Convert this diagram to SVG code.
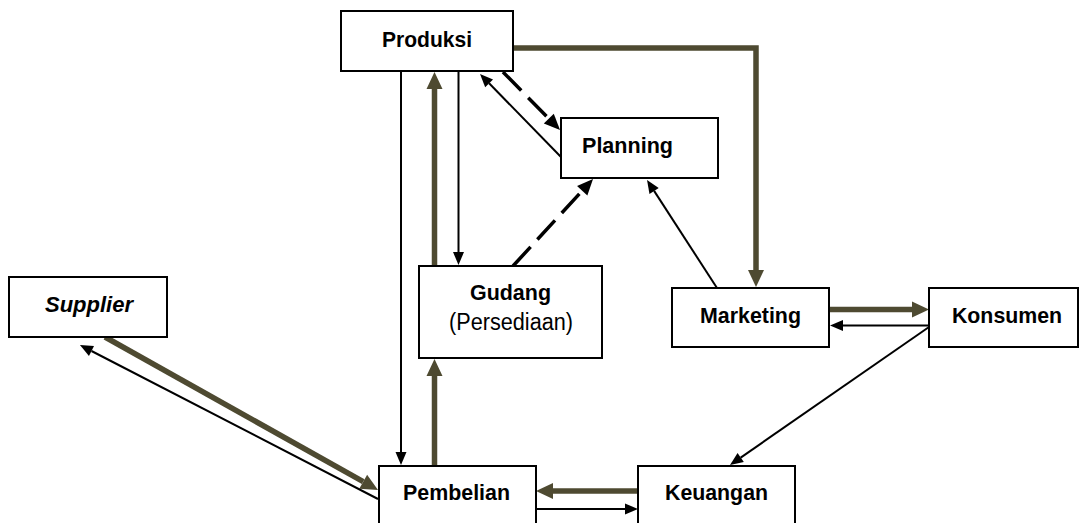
<svg xmlns="http://www.w3.org/2000/svg" width="1080" height="523" viewBox="0 0 1080 523">
<style>
.box{fill:#fff;stroke:#000;stroke-width:2}
.t{font-family:"Liberation Sans",Arial,sans-serif;font-size:22px;font-weight:bold;fill:#000}
.r{font-family:"Liberation Sans",Arial,sans-serif;font-size:23px;font-weight:normal;fill:#000}
.thin{fill:none;stroke:#000;stroke-width:2}
.dash{fill:none;stroke:#000;stroke-width:3.5;stroke-dasharray:26 10}
.olive{fill:none;stroke:#4E4A31;stroke-width:5.5}
</style>
<defs>
<marker id="ab" markerUnits="userSpaceOnUse" markerWidth="14" markerHeight="12" refX="0" refY="5.5" orient="auto" overflow="visible"><path d="M0,0 L13,5.5 L0,11 Z" fill="#000"/></marker>
<marker id="ad" markerUnits="userSpaceOnUse" markerWidth="17" markerHeight="15" refX="0" refY="7" orient="auto" overflow="visible"><path d="M0,0 L16,7 L0,14 Z" fill="#000"/></marker>
<marker id="ao" markerUnits="userSpaceOnUse" markerWidth="18" markerHeight="17" refX="0" refY="8" orient="auto" overflow="visible"><path d="M0,0 L17,8 L0,16 Z" fill="#4E4A31"/></marker>
</defs>
<rect width="1080" height="523" fill="#fff"/>
<g id="connectors">
<path class="thin" d="M401,71 V452" marker-end="url(#ab)"/>
<path class="thin" d="M458.5,71 V252" marker-end="url(#ab)"/>
<path class="olive" d="M434.5,266 V89" marker-end="url(#ao)"/>
<path class="olive" d="M434.5,466 V376" marker-end="url(#ao)"/>
<path class="dash" d="M503,72 L548.8,118.6" marker-end="url(#ad)"/>
<path class="thin" d="M561,157 L489.1,83.3" marker-end="url(#ab)"/>
<path class="dash" d="M513,266 L582.2,190.8" marker-end="url(#ad)"/>
<path class="thin" d="M717,288 L654.1,190.9" marker-end="url(#ab)"/>
<path class="olive" d="M513,48 H756 V270" marker-end="url(#ao)"/>
<path class="olive" d="M829,309.5 H912" marker-end="url(#ao)"/>
<path class="thin" d="M929,325.5 H843" marker-end="url(#ab)"/>
<path class="thin" d="M929,327 L740.7,457.6" marker-end="url(#ab)"/>
<path class="olive" d="M638,491 H553" marker-end="url(#ao)"/>
<path class="thin" d="M536,509 H625" marker-end="url(#ab)"/>
<path class="olive" d="M105,337 L363.2,481.7" marker-end="url(#ao)"/>
<path class="thin" d="M378,499 L91.5,351" marker-end="url(#ab)"/>
</g>
<g id="produksi"><rect class="box" x="341" y="11" width="172" height="60"/><text class="t" x="382" y="47" textLength="90" lengthAdjust="spacingAndGlyphs">Produksi</text></g>
<g id="planning"><rect class="box" x="561" y="118" width="157" height="60"/><text class="t" x="582" y="153" textLength="91" lengthAdjust="spacingAndGlyphs">Planning</text></g>
<g id="supplier"><rect class="box" x="9" y="277" width="158" height="60"/><text class="t" x="45" y="312" font-style="italic" textLength="88" lengthAdjust="spacingAndGlyphs">Supplier</text></g>
<g id="gudang"><rect class="box" x="419" y="266" width="183" height="92"/><text class="t" x="470" y="300" textLength="81" lengthAdjust="spacingAndGlyphs">Gudang</text><text class="r" x="449" y="330" textLength="124" lengthAdjust="spacingAndGlyphs">(Persediaan)</text></g>
<g id="marketing"><rect class="box" x="672" y="288" width="157" height="59"/><text class="t" x="700" y="323" textLength="101" lengthAdjust="spacingAndGlyphs">Marketing</text></g>
<g id="konsumen"><rect class="box" x="929" y="288" width="149" height="59"/><text class="t" x="952" y="323" textLength="110" lengthAdjust="spacingAndGlyphs">Konsumen</text></g>
<g id="pembelian"><rect class="box" x="379" y="466" width="157" height="70"/><text class="t" x="403" y="500" textLength="107" lengthAdjust="spacingAndGlyphs">Pembelian</text></g>
<g id="keuangan"><rect class="box" x="638" y="466" width="157" height="70"/><text class="t" x="665" y="500" textLength="103" lengthAdjust="spacingAndGlyphs">Keuangan</text></g>
</svg>
